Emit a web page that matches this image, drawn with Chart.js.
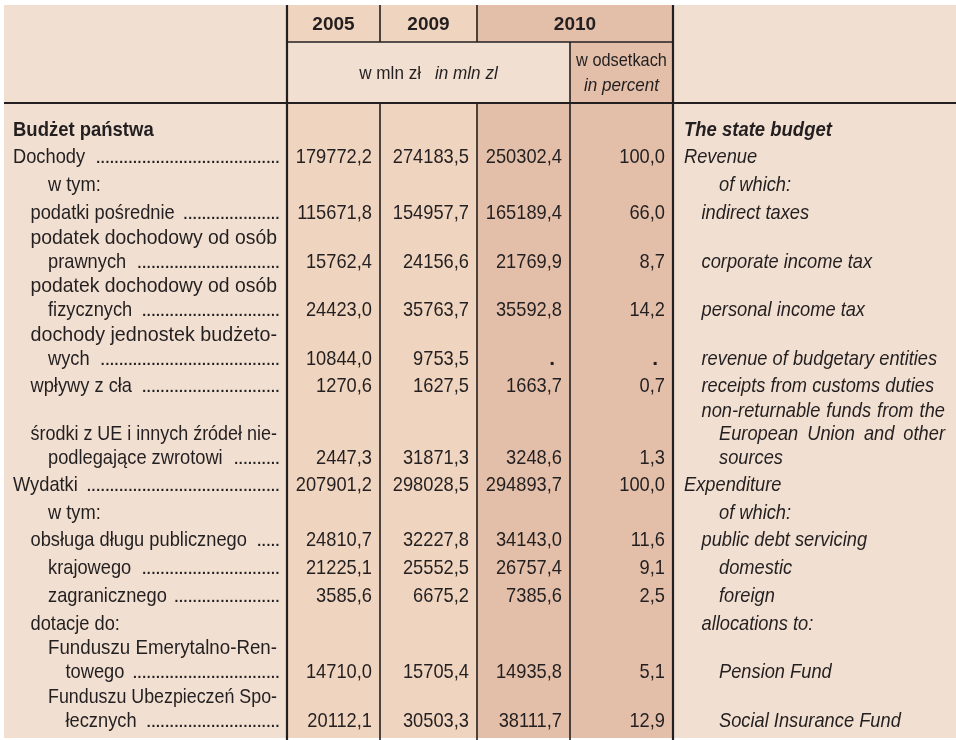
<!DOCTYPE html>
<html>
<head>
    <meta charset="utf-8">
    <title>Budżet państwa / The state budget</title>
    <script src="https://cdn.jsdelivr.net/npm/chart.js@4.4.1/dist/chart.umd.min.js"></script>
    <style>
        html, body {
            margin: 0;
            padding: 0;
            background: #ffffff;
        }
        canvas {
            display: block;
        }
    </style>
</head>
<body>
    <canvas id="budgetTable" width="956" height="740"></canvas>

    <script>
        // Row labels (Polish, left column) - a row may wrap over several lines
        const labelsPl = [
            ['Budżet państwa'],
            ['Dochody'],
            ['w tym:'],
            ['podatki pośrednie'],
            ['podatek dochodowy od osób', 'prawnych'],
            ['podatek dochodowy od osób', 'fizycznych'],
            ['dochody jednostek budżeto-', 'wych'],
            ['wpływy z cła'],
            ['środki z UE i innych źródeł nie-', 'podlegające zwrotowi'],
            ['Wydatki'],
            ['w tym:'],
            ['obsługa długu publicznego'],
            ['krajowego'],
            ['zagranicznego'],
            ['dotacje do:'],
            ['Funduszu Emerytalno-Ren-', 'towego'],
            ['Funduszu Ubezpieczeń Spo-', 'łecznych']
        ];

        // Row labels (English, right column)
        const labelsEn = [
            ['The state budget'],
            ['Revenue'],
            ['of which:'],
            ['indirect taxes'],
            ['corporate income tax'],
            ['personal income tax'],
            ['revenue of budgetary entities'],
            ['receipts from customs duties'],
            ['non-returnable funds from the', 'European Union and other', 'sources'],
            ['Expenditure'],
            ['of which:'],
            ['public debt servicing'],
            ['domestic'],
            ['foreign'],
            ['allocations to:'],
            ['Pension Fund'],
            ['Social Insurance Fund']
        ];

        // indent level of every label line
        const levelPl = [[0], [0], [2], [1], [1, 2], [1, 2], [1, 2], [1], [1, 2], [0], [2], [1], [2], [2], [1], [2, 3], [2, 3]];
        const levelEn = [[0], [0], [2], [1], [1], [1], [1], [1], [1, 2, 2], [0], [2], [1], [2], [2], [1], [2], [2]];

        // Column headers
        const years = ['2005', '2009', '2010'];
        const unitPl = 'w mln zł';
        const unitEn = 'in mln zl';
        const pctPl = 'w odsetkach';
        const pctEn = 'in percent';

        // Values in mln zł ('.' = data not available)
        const val2005 = [null, 179772.2, null, 115671.8, 15762.4, 24423.0, 10844.0, 1270.6, 2447.3, 207901.2, null, 24810.7, 21225.1, 3585.6, null, 14710.0, 20112.1];
        const val2009 = [null, 274183.5, null, 154957.7, 24156.6, 35763.7, 9753.5, 1627.5, 31871.3, 298028.5, null, 32227.8, 25552.5, 6675.2, null, 15705.4, 30503.3];
        const val2010 = [null, 250302.4, null, 165189.4, 21769.9, 35592.8, '.', 1663.7, 3248.6, 294893.7, null, 34143.0, 26757.4, 7385.6, null, 14935.8, 38111.7];
        // 2010 structure in percent
        const pct2010 = [null, 100.0, null, 66.0, 8.7, 14.2, '.', 0.7, 1.3, 100.0, null, 11.6, 9.1, 2.5, null, 5.1, 12.9];

        // ---- layout ----
        const COL = [4, 287, 380, 477, 570, 673, 956];   // column edges
        const TOP = 5, HEAD_MID = 42, HEAD_BOTTOM = 103, BOTTOM = 738;
        const FIRST_LINE = 128;                           // centre of first body line
        const INK = '#231f20';
        const BG = '#f1dfd1', BG_MID = '#efd4bf', BG_DARK = '#e3bfaa';
        const FONT = '"Liberation Sans", Arial, sans-serif';
        const BODY_PX = 21, BODY_SX = 0.87;

        // vertical position (in the y scale units) of each line of each row
        const rowLines = [];
        (function () {
            let y = 0, prevN = 0;
            labelsPl.forEach((pl, i) => {
                const n = Math.max(pl.length, labelsEn[i].length);
                if (i > 0) y += n > 1 ? 24.7 : (prevN > 1 ? 27 : 27.8);
                const lines = [y];
                for (let k = 1; k < n; k++) { y += n > 2 ? 23.5 : 24; lines.push(y); }
                rowLines.push(lines);
                prevN = n;
            });
        })();
        const lastLine = i => rowLines[i][rowLines[i].length - 1];

        function fmt(v) {
            return typeof v === 'number' ? v.toFixed(1).replace('.', ',') : v;
        }

        function cellData(values, col) {
            const out = [];
            values.forEach((v, i) => {
                if (v !== null) out.push({ x: COL[col + 1] - 8, y: lastLine(i), v: v });
            });
            return out;
        }

        // draw text squeezed horizontally (narrow face)
        function txt(ctx, s, x, y, font, sx, align) {
            ctx.save();
            ctx.font = font;
            ctx.textAlign = 'left';
            ctx.textBaseline = 'alphabetic';
            const w = ctx.measureText(s).width * sx;
            let x0 = x;
            if (align === 'right') x0 = x - w;
            else if (align === 'center') x0 = x - w / 2;
            ctx.translate(x0, y);
            ctx.scale(sx, 1);
            ctx.fillText(s, 0, 0);
            ctx.restore();
            return w;
        }

        // justified line, stretched by glyph width
        function fitLine(ctx, s, x, xRight, y, font) {
            ctx.font = font;
            const sx = (xRight - x) / ctx.measureText(s).width;
            txt(ctx, s, x, y, font, sx, 'left');
        }

        // justified line, stretched by word spacing
        function justify(ctx, s, x, xRight, y, font, sx) {
            const words = s.split(' ');
            ctx.font = font;
            const widths = words.map(wd => ctx.measureText(wd).width * sx);
            const total = widths.reduce((a, b) => a + b, 0);
            const gap = words.length > 1 ? (xRight - x - total) / (words.length - 1) : 0;
            let cur = x;
            words.forEach((wd, k) => {
                txt(ctx, wd, cur, y, font, sx, 'left');
                cur += widths[k] + gap;
            });
        }

        function vline(ctx, x, y1, y2, w) {
            ctx.lineWidth = w;
            ctx.beginPath(); ctx.moveTo(x, y1); ctx.lineTo(x, y2); ctx.stroke();
        }
        function hline(ctx, y, x1, x2, w) {
            ctx.lineWidth = w;
            ctx.beginPath(); ctx.moveTo(x1, y); ctx.lineTo(x2, y); ctx.stroke();
        }

        const tablePlugin = {
            id: 'tableFrame',
            beforeDatasetsDraw(chart) {
                const ctx = chart.ctx;
                const xs = chart.scales.x, ys = chart.scales.y;
                const px = v => xs.getPixelForValue(v);
                const py = v => ys.getPixelForValue(v);
                const cx = i => px(COL[i]);

                ctx.save();
                // backgrounds
                ctx.fillStyle = BG;
                ctx.fillRect(cx(0), TOP, cx(6) - cx(0), BOTTOM - TOP);
                ctx.fillStyle = BG_MID;
                ctx.fillRect(cx(1), TOP, cx(3) - cx(1), HEAD_MID - TOP);
                ctx.fillRect(cx(1), HEAD_BOTTOM, cx(3) - cx(1), BOTTOM - HEAD_BOTTOM);
                ctx.fillStyle = BG_DARK;
                ctx.fillRect(cx(3), TOP, cx(5) - cx(3), HEAD_MID - TOP);
                ctx.fillRect(cx(4), HEAD_MID, cx(5) - cx(4), HEAD_BOTTOM - HEAD_MID);
                ctx.fillRect(cx(3), HEAD_BOTTOM, cx(5) - cx(3), BOTTOM - HEAD_BOTTOM);

                // rules
                ctx.strokeStyle = INK;
                vline(ctx, cx(1), TOP, 740, 2.2);
                vline(ctx, cx(5), TOP, 740, 2.2);
                vline(ctx, cx(2), TOP, HEAD_MID, 1.6);
                vline(ctx, cx(2), HEAD_BOTTOM, 740, 1.6);
                vline(ctx, cx(3), TOP, HEAD_MID, 1.6);
                vline(ctx, cx(3), HEAD_BOTTOM, 740, 1.6);
                vline(ctx, cx(4), HEAD_MID, 740, 1.6);
                hline(ctx, HEAD_MID, cx(1), cx(5), 1.4);
                hline(ctx, HEAD_BOTTOM, cx(0), cx(6), 2.2);

                // header text
                ctx.fillStyle = INK;
                const hb = 'bold 19px ' + FONT;
                txt(ctx, years[0], (cx(1) + cx(2)) / 2, 29.5, hb, 1, 'center');
                txt(ctx, years[1], (cx(2) + cx(3)) / 2, 29.5, hb, 1, 'center');
                txt(ctx, years[2], (cx(3) + cx(5)) / 2, 29.5, hb, 1, 'center');
                const hr = '19px ' + FONT, hi = 'italic 19px ' + FONT;
                ctx.font = hr;
                const w1 = ctx.measureText(unitPl).width * 0.9;
                ctx.font = hi;
                const w2 = ctx.measureText(unitEn).width * 0.9;
                const gap = 14;
                const ux = (cx(1) + cx(4)) / 2 - (w1 + gap + w2) / 2;
                txt(ctx, unitPl, ux, 79, hr, 0.9, 'left');
                txt(ctx, unitEn, ux + w1 + gap, 79, hi, 0.9, 'left');
                txt(ctx, pctPl, (cx(4) + cx(5)) / 2, 65.5, hr, 0.86, 'center');
                txt(ctx, pctEn, (cx(4) + cx(5)) / 2, 91, hi, 0.9, 'center');

                // row labels
                const step = 17.5;
                const reg = BODY_PX + 'px ' + FONT;
                const rightPl = cx(1) - 10, rightEn = cx(6) - 11;
                labelsPl.forEach((lines, i) => {
                    const n = rowLines[i].length;
                    const bold = i === 0;
                    const font = (bold ? 'bold ' : '') + reg;
                    const sx = bold ? 0.88 : BODY_SX;
                    const hasValue = val2005[i] !== null;
                    lines.forEach((s, k) => {
                        const yv = py(rowLines[i][n - lines.length + k]) + 7.5;
                        const x = cx(0) + 9 + levelPl[i][k] * step;
                        if (k < lines.length - 1) {
                            fitLine(ctx, s, x, rightPl, yv, font);
                            return;
                        }
                        const w = txt(ctx, s, x, yv, font, sx, 'left');
                        // dot leaders on the line carrying the values
                        if (hasValue) {
                            let d = rightPl - 2.4;
                            while (d > x + w + 6) {
                                txt(ctx, '.', d, yv, reg, 1, 'left');
                                d -= 4.6;
                            }
                        }
                    });
                });
                labelsEn.forEach((lines, i) => {
                    const n = rowLines[i].length;
                    const bold = i === 0;
                    const font = (bold ? 'bold italic ' : 'italic ') + reg;
                    const sx = bold ? 0.88 : BODY_SX;
                    lines.forEach((s, k) => {
                        const yv = py(rowLines[i][n - lines.length + k]) + 7.5;
                        const x = cx(5) + 11 + levelEn[i][k] * step;
                        if (k < lines.length - 1) justify(ctx, s, x, rightEn, yv, font, sx);
                        else txt(ctx, s, x, yv, font, sx, 'left');
                    });
                });
                ctx.restore();
            },
            afterDatasetsDraw(chart) {
                const ctx = chart.ctx;
                ctx.save();
                ctx.fillStyle = INK;
                const reg = BODY_PX + 'px ' + FONT;
                chart.data.datasets.forEach((ds, di) => {
                    const meta = chart.getDatasetMeta(di);
                    meta.data.forEach((pt, j) => {
                        const v = ds.data[j].v;
                        if (v === '.') {
                            txt(ctx, '.', pt.x - 7, pt.y + 7.5, 'bold ' + reg, 1, 'right');
                        } else {
                            txt(ctx, fmt(v), pt.x, pt.y + 7.5, reg, BODY_SX, 'right');
                        }
                    });
                });
                ctx.restore();
            }
        };

        const ctx = document.getElementById('budgetTable').getContext('2d');
        const budgetTable = new Chart(ctx, {
            type: 'scatter',
            data: {
                datasets: [
                    { label: years[0], data: cellData(val2005, 1) },
                    { label: years[1], data: cellData(val2009, 2) },
                    { label: years[2], data: cellData(val2010, 3) },
                    { label: pctEn, data: cellData(pct2010, 4) }
                ]
            },
            options: {
                responsive: false,
                animation: false,
                events: [],
                layout: { padding: 0 },
                elements: { point: { radius: 0, hoverRadius: 0 } },
                plugins: {
                    legend: { display: false },
                    tooltip: { enabled: false }
                },
                scales: {
                    x: { type: 'linear', display: false, min: 0, max: 956 },
                    y: { type: 'linear', display: false, reverse: true, min: -FIRST_LINE, max: 740 - FIRST_LINE }
                }
            },
            plugins: [tablePlugin]
        });
    </script>
</body>
</html>
